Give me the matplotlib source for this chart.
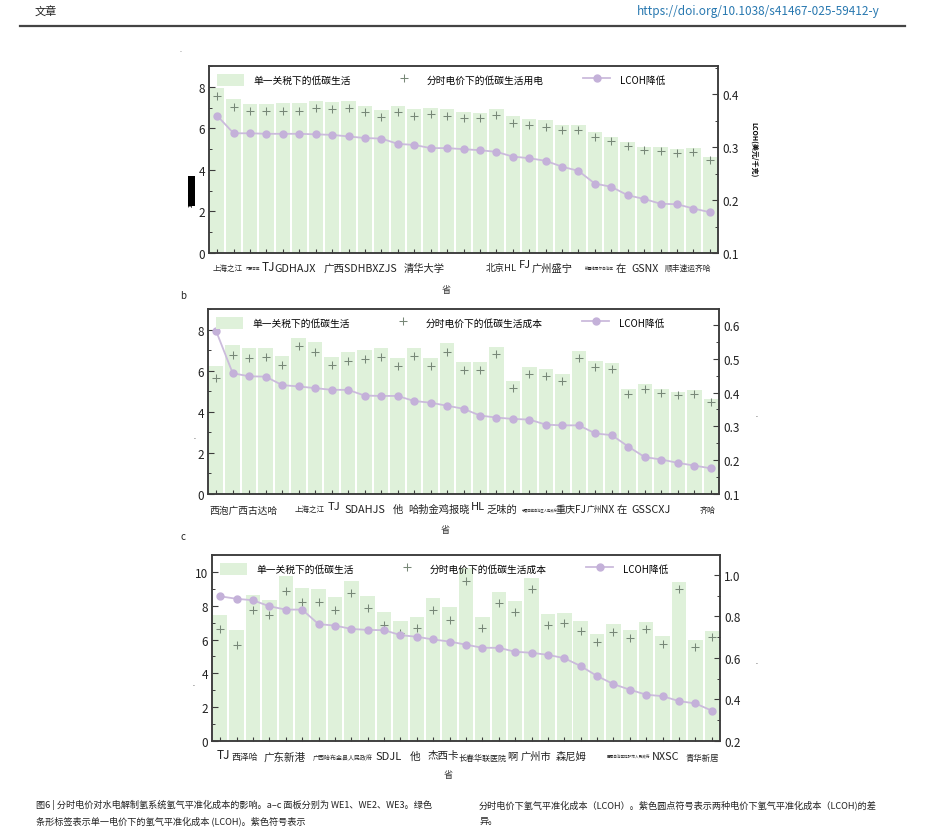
import matplotlib
matplotlib.use('Agg')
import matplotlib.pyplot as plt
from matplotlib.patches import Patch
from matplotlib.lines import Line2D
from matplotlib.ticker import MultipleLocator, FormatStrFormatter

plt.rcParams['font.family'] = ['Noto Sans CJK SC', 'DejaVu Sans']

# ---- panel a (WE1) ----
a_bar = [7.92, 7.39, 7.15, 7.15, 7.20, 7.20, 7.33, 7.25, 7.31, 7.09, 6.88,
         7.09, 6.92, 6.99, 6.92, 6.80, 6.76, 6.92, 6.57, 6.47, 6.38, 6.18,
         6.17, 5.83, 5.60, 5.33, 5.12, 5.10, 4.99, 5.06, 4.62]
a_tou = [7.55, 7.04, 6.83, 6.83, 6.84, 6.84, 6.96, 6.91, 6.96, 6.80, 6.54,
         6.80, 6.60, 6.67, 6.60, 6.49, 6.49, 6.63, 6.28, 6.17, 6.07, 5.93,
         5.91, 5.59, 5.38, 5.15, 4.94, 4.91, 4.80, 4.86, 4.49]
a_lcoh = [0.359, 0.326, 0.326, 0.325, 0.325, 0.325, 0.324, 0.323, 0.320, 0.317,
          0.316, 0.306, 0.304, 0.298, 0.298, 0.296, 0.294, 0.291, 0.282, 0.279,
          0.274, 0.263, 0.255, 0.231, 0.225, 0.209, 0.202, 0.193, 0.192, 0.184,
          0.177]
a_labels = ["上海之江", "内蒙古区", "TJ", "GDHAJX", "广西SDHBXZJS", "清华大学",
            "北京HL", "FJ", "广州盛宁", "新疆维吾尔自治区", "在", "GSNX", "顺丰速运齐哈"]
a_legend = ["单一关税下的低碳生活", "分时电价下的低碳生活用电", "LCOH降低"]

# ---- panel b (WE2) ----
b_bar = [6.25, 7.25, 7.09, 7.12, 6.73, 7.60, 7.38, 6.68, 6.89, 7.00, 7.09,
         6.60, 7.12, 6.63, 7.33, 6.41, 6.41, 7.17, 5.51, 6.20, 6.07, 5.83,
         6.97, 6.47, 6.36, 5.12, 5.36, 5.12, 4.94, 5.04, 4.64]
b_tou = [5.64, 6.76, 6.63, 6.67, 6.28, 7.21, 6.92, 6.28, 6.49, 6.57, 6.68,
         6.23, 6.71, 6.25, 6.92, 6.04, 6.04, 6.83, 5.15, 5.86, 5.72, 5.48,
         6.60, 6.18, 6.07, 4.86, 5.12, 4.91, 4.80, 4.86, 4.48]
b_lcoh = [0.581, 0.457, 0.448, 0.447, 0.422, 0.418, 0.413, 0.408, 0.408, 0.391,
          0.390, 0.390, 0.375, 0.370, 0.361, 0.352, 0.332, 0.326, 0.322, 0.320,
          0.305, 0.303, 0.303, 0.279, 0.274, 0.240, 0.209, 0.202, 0.192, 0.184,
          0.176]
b_labels = ["西泡广西古达哈", "上海之江", "TJ", "SDAHJS", "他", "哈勃金鸡报晓", "HL",
            "乏味的", "宁夏回族自治区人民政府", "重庆FJ", "广州", "NX", "在",
            "GSSCXJ", "齐哈"]
b_legend = ["单一关税下的低碳生活", "分时电价下的低碳生活成本", "LCOH降低"]

# ---- panel c (WE3) ----
c_bar = [7.48, 6.59, 8.62, 8.36, 9.76, 9.05, 9.01, 8.50, 9.49, 8.60, 7.61,
         7.12, 7.36, 8.44, 7.91, 10.24, 7.36, 8.82, 8.26, 9.64, 7.53, 7.57,
         7.12, 6.35, 6.90, 6.57, 7.06, 6.21, 9.39, 5.96, 6.53]
c_tou = [6.61, 5.66, 7.75, 7.44, 8.90, 8.22, 8.24, 7.75, 8.74, 7.87, 6.88,
         6.41, 6.67, 7.73, 7.18, 9.45, 6.67, 8.17, 7.63, 9.01, 6.88, 6.96,
         6.53, 5.84, 6.45, 6.11, 6.61, 5.76, 8.97, 5.56, 6.17]
c_lcoh = [0.897, 0.885, 0.878, 0.849, 0.833, 0.833, 0.763, 0.756, 0.740, 0.735,
          0.734, 0.710, 0.702, 0.689, 0.679, 0.664, 0.649, 0.649, 0.630, 0.625,
          0.615, 0.599, 0.561, 0.513, 0.474, 0.447, 0.423, 0.416, 0.392, 0.381,
          0.346]
c_labels = ["TJ", "西泽哈", "广东新港", "广西哈布金县人民政府", "SDJL", "他", "杰西卡",
            "长春华联医院", "啊", "广州市", "森尼姆", "西藏自治区拉萨市人民政府",
            "NXSC", "青华新居"]
c_legend = ["单一关税下的低碳生活", "分时电价下的低碳生活成本", "LCOH降低"]

# label layout: x centre (in bar units), font size, vertical offset (px)
a_lab_x = [0.64, 2.15, 3.09, 4.75, 8.7, 12.6, 17.3, 18.75, 20.4, 23.25, 24.56, 26.06, 28.68]
a_lab_fs = [5.4, 2.6, 8.5, 7.8, 7.6, 7.4, 6.8, 8.0, 7.4, 2.6, 7.4, 7.6, 5.6]
a_lab_dy = [-11, -13, -7, -10, -10, -10, -10, -6, -10, -13, -10, -10, -11]

b_lab_x = [1.65, 5.69, 7.15, 9.0, 11.0, 13.5, 15.9, 17.3, 19.6, 21.5, 22.95, 23.75, 24.6, 26.4, 29.8]
b_lab_fs = [7.0, 5.4, 8.2, 7.8, 7.4, 7.4, 8.0, 7.4, 2.3, 7.2, 5.6, 7.4, 7.4, 7.8, 5.8]
b_lab_dy = [-11, -11, -7, -10, -10, -10, -7, -10, -14, -10, -11, -10, -10, -10, -11]

c_lab_x = [0.2, 1.5, 3.9, 7.5, 10.3, 11.9, 13.6, 16.0, 17.8, 19.3, 21.4, 24.9, 27.2, 29.4]
c_lab_fs = [8.6, 6.4, 7.6, 4.3, 8.0, 7.6, 7.6, 5.8, 7.4, 7.4, 7.4, 2.6, 7.8, 6.0]
c_lab_dy = [-7, -11, -10, -12, -10, -10, -9, -12, -10, -10, -10, -13, -10, -12]

BAR_C = '#dff1da'
PLUS_C = '#778777'
LINE_C = '#cbbbdc'
DOT_C = '#c4b1d9'
SPINE_C = '#3c3c3c'


def draw_panel(rect, bars, tou, lcoh, legend, labels, lab_x, lab_fs, lab_dy,
               ylim_l, step_l, ylim_r, step_r, xlab_dy):
    ax = fig.add_axes(rect)
    x = list(range(len(bars)))
    ax.bar(x, bars, width=0.88, color=BAR_C, zorder=1)
    ax.plot(x, tou, ls='none', marker='+', ms=6, mew=0.75, color=PLUS_C, zorder=3)
    ax.set_xlim(-0.5, len(bars) - 0.5)
    ax.set_ylim(*ylim_l)
    ax.yaxis.set_major_locator(MultipleLocator(step_l))
    ax.yaxis.set_minor_locator(MultipleLocator(step_l / 2))
    ax.set_xticks(x)
    ax.set_xticklabels([])
    ax.tick_params(axis='both', which='both', direction='in', color=SPINE_C,
                   labelsize=8.5, labelcolor='#222222')
    ax.tick_params(axis='x', length=3, width=0.8)
    ax.tick_params(axis='y', which='major', length=4, width=0.8, pad=3)
    ax.tick_params(axis='y', which='minor', length=2, width=0.7)

    ax2 = ax.twinx()
    ax2.plot(x, lcoh, color=LINE_C, lw=1.3, marker='o', ms=5,
             mfc=DOT_C, mec=DOT_C, zorder=4)
    ax2.set_ylim(*ylim_r)
    ax2.yaxis.set_major_locator(MultipleLocator(step_r))
    ax2.yaxis.set_minor_locator(MultipleLocator(step_r / 2))
    ax2.yaxis.set_major_formatter(FormatStrFormatter('%.1f'))
    ax2.tick_params(axis='y', which='major', direction='in', length=4, width=0.8,
                    color=SPINE_C, labelsize=8.5, labelcolor='#222222', pad=3)
    ax2.tick_params(axis='y', which='minor', direction='in', length=2, width=0.7,
                    color=SPINE_C)
    for a in (ax, ax2):
        for s in a.spines.values():
            s.set_color(SPINE_C)
            s.set_linewidth(1.1)

    handles = [Patch(facecolor=BAR_C, edgecolor='none'),
               Line2D([], [], ls='none', marker='+', ms=6, mew=0.75, color=PLUS_C),
               Line2D([], [], color=LINE_C, lw=1.3, marker='o', ms=5,
                      mfc=DOT_C, mec=DOT_C)]
    ax2.legend(handles, legend, loc='upper left', bbox_to_anchor=(0.0, 1.0),
               ncol=3, frameon=False, fontsize=7, handlelength=2.8,
               handleheight=1.5, handletextpad=1.0, columnspacing=4.0,
               borderaxespad=0.4)

    for lab, lx, fs, dy in zip(labels, lab_x, lab_fs, lab_dy):
        ax.annotate(lab, xy=(lx, 0), xycoords=('data', 'axes fraction'),
                    xytext=(0, dy), textcoords='offset pixels', ha='center',
                    va='top', fontsize=fs, color='#222222')
    ax.annotate('省', xy=(0.465, 0), xycoords='axes fraction', xytext=(0, xlab_dy),
                textcoords='offset pixels', ha='center', va='center',
                fontsize=6.5, color='#333333')
    return ax, ax2


fig = plt.figure(figsize=(9.34, 8.37), dpi=100)

# page header
fig.text(35 / 934, 1 - 12 / 837, '文章', fontsize=8, va='center', ha='left', color='#222222')
fig.text(880 / 934, 1 - 12 / 837, 'https://doi.org/10.1038/s41467-025-59412-y',
         fontsize=8.5, va='center', ha='right', color='#2878b0')
fig.add_artist(Line2D([20 / 934, 905 / 934], [1 - 27 / 837, 1 - 27 / 837],
                      color='#444444', lw=1.6))
fig.text(181 / 934, 1 - 52 / 837, '-', fontsize=4, ha='center', va='center', color='#555555')

ax_a, ax_a2 = draw_panel([209 / 934, 1 - 254 / 837, 509 / 934, 187 / 837],
                         a_bar, a_tou, a_lcoh, a_legend, a_labels, a_lab_x, a_lab_fs,
                         a_lab_dy, (0, 9), 2, (0.1, 0.453), 0.1, -36)
ax_a.text(-0.035, 0.33, '平准化成本', rotation=90, transform=ax_a.transAxes,
          fontsize=4.2, fontweight='heavy', color='black', ha='center', va='center',
          bbox=dict(facecolor='black', edgecolor='none', pad=0.3))
ax_a2.text(1.07, 0.56, 'LCOH(美元/千克)', rotation=270, transform=ax_a2.transAxes,
           fontsize=5, fontweight='heavy', color='black', ha='center', va='center')

fig.text(183 / 934, 1 - 296 / 837, 'b', fontsize=7, ha='center', va='center', color='#222222')
ax_b, ax_b2 = draw_panel([208 / 934, 1 - 495 / 837, 511 / 934, 185 / 837],
                         b_bar, b_tou, b_lcoh, b_legend, b_labels, b_lab_x, b_lab_fs,
                         b_lab_dy, (0, 9), 2, (0.1, 0.647), 0.1, -35)
ax_b.text(-0.027, 0.3, '.', transform=ax_b.transAxes, fontsize=5, ha='center', color='#333333')
ax_b2.text(1.074, 0.42, '.', transform=ax_b2.transAxes, fontsize=5, ha='center', color='#333333')

fig.text(183 / 934, 1 - 537 / 837, 'c', fontsize=7, ha='center', va='center', color='#222222')
ax_c, ax_c2 = draw_panel([212 / 934, 1 - 742 / 837, 508 / 934, 186 / 837],
                         c_bar, c_tou, c_lcoh, c_legend, c_labels, c_lab_x, c_lab_fs,
                         c_lab_dy, (0, 11), 2, (0.2, 1.096), 0.2, -34)
ax_c.text(-0.037, 0.3, '.', transform=ax_c.transAxes, fontsize=5, ha='center', color='#333333')
ax_c2.text(1.072, 0.42, '.', transform=ax_c2.transAxes, fontsize=5, ha='center', color='#333333')

# caption
cap_kw = dict(fontsize=6.6, ha='left', va='center', color='#222222')
fig.text(36 / 934, 1 - 805 / 837,
         '图6 | 分时电价对水电解制氢系统氢气平准化成本的影响。a–c 面板分别为 WE1、WE2、WE3。绿色', **cap_kw)
fig.text(36 / 934, 1 - 821 / 837,
         '条形标签表示单一电价下的氢气平准化成本 (LCOH)。紫色符号表示', **cap_kw)
fig.text(479 / 934, 1 - 805 / 837,
         '分时电价下氢气平准化成本（LCOH）。紫色圆点符号表示两种电价下氢气平准化成本（LCOH)的差', **cap_kw)
fig.text(479 / 934, 1 - 821 / 837, '异。', **cap_kw)

fig.savefig('out.png', dpi=100)
